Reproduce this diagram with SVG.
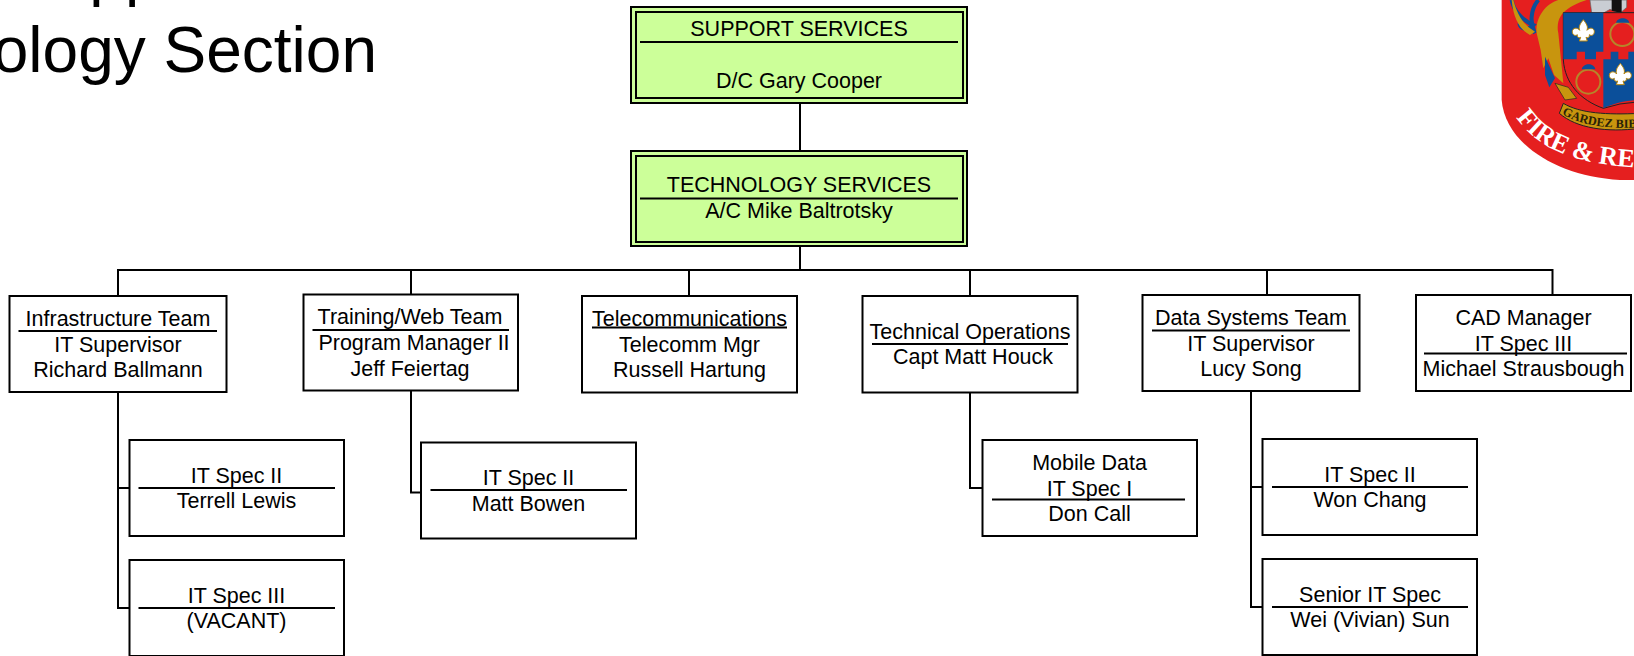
<svg xmlns="http://www.w3.org/2000/svg" width="1634" height="656" viewBox="0 0 1634 656">
<style>
text{font-family:"Liberation Sans",Arial,sans-serif;font-size:21.5px;fill:#000;text-anchor:middle}
.title{font-size:64px;text-anchor:start}
.title-end{font-size:64px;text-anchor:end}
.box{fill:#fff;stroke:#000;stroke-width:2}
.green{fill:#ccff99;stroke:#000;stroke-width:2}
.rule{stroke:#000;stroke-width:2;fill:none}
.conn{stroke:#000;stroke-width:2;fill:none}
.lg{font-family:"Liberation Serif","Times New Roman",serif;font-weight:700;text-anchor:start}
</style>
<defs>
<path id="fleur" d="M0,-38C9,-26 15,-18 11,-6C18,-16 33,-14 33,-2C33,8 24,12 18,7C20,14 14,18 8,15L12,26L-12,26L-8,15C-14,18 -20,14 -18,7C-24,12 -33,8 -33,-2C-33,-14 -18,-16 -11,-6C-15,-18 -9,-26 0,-38Z" fill="#fff" stroke="#b8860b" stroke-width="3"/>
<path id="arcFire" d="M108,352C165,432 255,492 480,503"/>
<path id="arcMotto" d="M246,342C300,375 380,388 480,382"/>
</defs>
<rect width="1634" height="656" fill="#fff"/>
<g id="title">
<text class="title" x="11" y="-6">Support</text>
<text class="title-end" x="377" y="72">Technology Section</text>
</g>
<g id="logo" transform="translate(1480,0) scale(0.33333)">
<path d="M65,0L65,300C75,430 230,530 420,540L480,540L480,0Z" fill="#e51f1f"/>
<path d="M95,0C100,30 125,60 160,75C140,95 120,85 118,70" fill="none" stroke="#0b4f9a" stroke-width="12"/>
<path d="M175,0C150,30 150,70 165,100" fill="none" stroke="#0b4f9a" stroke-width="12"/>
<path d="M170,100C165,50 200,10 235,0L320,0C260,20 225,45 235,100L250,250L222,225L205,175L190,205L182,150Z" fill="#c8950e"/>
<path d="M195,170L225,235L208,262L195,225Z" fill="#0b4f9a"/>
<path d="M100,0C112,45 130,75 165,95L150,105C120,90 100,55 95,0Z" fill="#c8950e"/>
<path d="M330,0L440,0L440,22L420,40L390,28L360,45L335,38Z" fill="#c9cdd3" stroke="#666" stroke-width="2"/>
<path d="M395,0L425,0L425,40L395,32Z" fill="#111"/>
<path d="M250,38L480,38L480,305L420,312L370,325C300,300 255,250 250,180Z" fill="#e51f1f" stroke="#222" stroke-width="3"/>
<path d="M250,38L370,38L370,155L348,155L348,178L315,178L315,155L290,155L290,178L250,178Z" fill="#0b4f9a"/>
<path d="M370,325L370,178L392,178L392,155L415,155L415,178L445,178L445,155L480,155L480,300C440,300 400,310 370,325Z" fill="#0b4f9a"/>
<use href="#fleur" x="310" y="97"/>
<use href="#fleur" x="421" y="228"/>
<circle cx="427" cy="102" r="36" fill="none" stroke="#b5862a" stroke-width="6"/>
<path d="M408,68C412,50 445,50 448,68Z" fill="#0b4f9a"/>
<circle cx="325" cy="245" r="36" fill="none" stroke="#b5862a" stroke-width="6"/>
<path d="M305,208C310,188 342,188 346,208Z" fill="#0b4f9a"/>
<path d="M225,250L265,262L290,295L255,300Z" fill="#c8950e" stroke="#222" stroke-width="2"/>
<path d="M250,310C300,340 380,345 480,340L480,385C380,398 290,385 238,340Z" fill="#c8950e" stroke="#222" stroke-width="3"/>
<text class="lg" style="font-size:37px;fill:#2a2208"><textPath href="#arcMotto">GARDEZ BIB</textPath></text>
<text class="lg" style="font-size:78px;fill:#fff"><textPath href="#arcFire">FIRE &amp; RES</textPath></text>
</g>
<g id="connectors" class="conn">
<path class="conn" d="M800,103V151M800,246V270M118,296V270H1552.5V295M411,270V295M689,270V296M970,270V296M1267,270V295"/>
<path class="conn" d="M118,392V608H130M118,488H130"/>
<path class="conn" d="M411,390V492.5H422"/>
<path class="conn" d="M970,392V488H983"/>
<path class="conn" d="M1251,391V607H1263M1251,487H1263"/>
</g>
<g id="support-services">
<rect class="green" x="631" y="7" width="336" height="96"/><rect class="green" x="636" y="12" width="327" height="86"/>
<path class="rule" d="M640,42H958"/>
<text x="799" y="36">SUPPORT SERVICES</text><text x="799" y="87.500">D/C Gary Cooper</text>
</g>
<g id="technology-services">
<rect class="green" x="631" y="151" width="336" height="95"/><rect class="green" x="636" y="156" width="327" height="86"/>
<path class="rule" d="M640,198.500H958"/>
<text x="799" y="192">TECHNOLOGY SERVICES</text><text x="799" y="217.500">A/C Mike Baltrotsky</text>
</g>
<g id="infrastructure-team">
<rect class="box" x="9.500" y="296" width="217" height="96"/><path class="rule" d="M18.500,331H217"/>
<text x="118" y="325.500">Infrastructure Team</text><text x="118" y="351.500">IT Supervisor</text><text x="118" y="376.500">Richard Ballmann</text>
</g>
<g id="training-web-team">
<rect class="box" x="303.500" y="294.500" width="214.500" height="96"/><path class="rule" d="M312.500,330H509"/>
<text x="410" y="324">Training/Web Team</text><text x="414" y="349.500">Program Manager II</text><text x="410" y="375.500">Jeff Feiertag</text>
</g>
<g id="telecommunications">
<rect class="box" x="582" y="296" width="215" height="96.500"/>
<text x="689.500" y="325.500">Telecommunications</text><path class="rule" d="M592,327.500H787"/>
<text x="689.500" y="351.500">Telecomm Mgr</text><text x="689.500" y="376.500">Russell Hartung</text>
</g>
<g id="technical-operations">
<rect class="box" x="862.500" y="296" width="215" height="96.500"/><path class="rule" d="M872,344H1068"/>
<text x="970" y="338.500">Technical Operations</text><text x="973" y="363.500">Capt Matt Houck</text>
</g>
<g id="data-systems-team">
<rect class="box" x="1142.500" y="295" width="217" height="96"/><path class="rule" d="M1152,330.500H1350"/>
<text x="1251" y="324.500">Data Systems Team</text><text x="1251" y="350.500">IT Supervisor</text><text x="1251" y="375.500">Lucy Song</text>
</g>
<g id="cad-manager">
<rect class="box" x="1416" y="295" width="215" height="96"/><path class="rule" d="M1424,353.500H1627"/>
<text x="1523.500" y="324.500">CAD Manager</text><text x="1523.500" y="350.500">IT Spec III</text><text x="1523.500" y="375.500">Michael Strausbough</text>
</g>
<g id="terrell-lewis">
<rect class="box" x="129.500" y="440" width="214.500" height="96"/><path class="rule" d="M138.500,488H335"/>
<text x="236.500" y="482.500">IT Spec II</text><text x="236.500" y="507.500">Terrell Lewis</text>
</g>
<g id="vacant">
<rect class="box" x="129.500" y="560" width="214.500" height="96"/><path class="rule" d="M138.500,608H335"/>
<text x="236.500" y="602.500">IT Spec III</text><text x="236.500" y="627.500">(VACANT)</text>
</g>
<g id="matt-bowen">
<rect class="box" x="421" y="442.500" width="215" height="96"/><path class="rule" d="M430.500,490H627"/>
<text x="528.500" y="484.500">IT Spec II</text><text x="528.500" y="510.500">Matt Bowen</text>
</g>
<g id="don-call">
<rect class="box" x="982.500" y="440" width="214.500" height="96"/><path class="rule" d="M992,499.500H1185"/>
<text x="1089.500" y="469.500">Mobile Data</text><text x="1089.500" y="495.500">IT Spec I</text><text x="1089.500" y="520.500">Don Call</text>
</g>
<g id="won-chang">
<rect class="box" x="1262.500" y="439" width="214.500" height="96"/><path class="rule" d="M1272,487H1468"/>
<text x="1370" y="481.500">IT Spec II</text><text x="1370" y="507">Won Chang</text>
</g>
<g id="wei-sun">
<rect class="box" x="1262.500" y="559" width="214.500" height="96"/><path class="rule" d="M1272,607H1468"/>
<text x="1370" y="601.500">Senior IT Spec</text><text x="1370" y="627">Wei (Vivian) Sun</text>
</g>
</svg>
